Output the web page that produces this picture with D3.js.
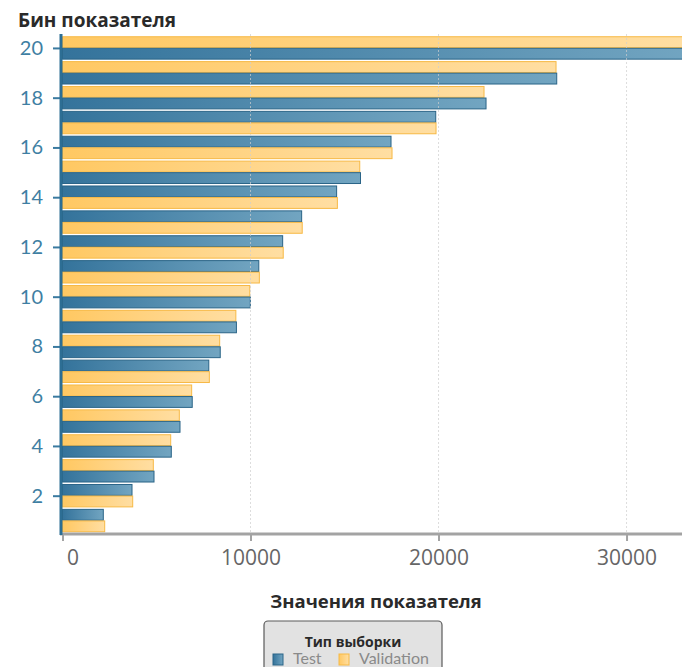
<!DOCTYPE html>
<html>
<head>
<meta charset="utf-8">
<script src="https://cdn.jsdelivr.net/npm/d3@7"></script>
<style>
  body { margin: 0; background: #fff; }
  svg { display: block; font-family: Lato, "Open Sans", sans-serif; }
</style>
</head>
<body>
<div id="chart"></div>
<script>
// bins of the indicator, bottom to top
const bins = d3.range(1, 21);
const seriesNames = ['Test', 'Validation'];
// values (bin 20 runs past the right edge)
const testValues = [2170, 3697, 4867, 5787, 6250, 6900, 7780, 8390, 9250, 9990,
  10440, 11710, 12720, 14580, 15850, 17473, 19851, 22527, 26287, 33400];
const validationValues = [2245, 3734, 4830, 5755, 6213, 6870, 7810, 8360, 9220, 9960,
  10470, 11740, 12750, 14620, 15810, 17527, 19867, 22420, 26250, 33300];
const xTicks = [0, 10000, 20000, 30000];
const yTicks = [2, 4, 6, 8, 10, 12, 14, 16, 18, 20];

const W = 682, H = 667;
const svg = d3.select('#chart').append('svg').attr('width', W).attr('height', H);

const x = d3.scaleLinear().domain([0, 32950]).range([62.5, 682]);
const y = d3.scaleLinear().domain([0.5, 20.5]).range([533, 35.5]);
// two bars inside a bin, smaller value on top
const inner = d3.scaleBand().domain([0, 1]).range([-11.2, 11.2]).paddingInner(0.06);

const color = {
  Test: { a: '#34739b', b: '#72a5c1', stroke: '#2a6487' },
  Validation: { a: '#ffc862', b: '#ffdea2', stroke: '#f7b945' }
};

const defs = svg.append('defs');
seriesNames.forEach(s => {
  const g = defs.append('linearGradient').attr('id', 'grad-' + s)
    .attr('x1', 0).attr('x2', 1).attr('y1', 0).attr('y2', 0);
  g.append('stop').attr('offset', '0%').attr('stop-color', color[s].a);
  g.append('stop').attr('offset', '100%').attr('stop-color', color[s].b);
});
defs.append('clipPath').attr('id', 'plot')
  .append('rect').attr('x', 62).attr('y', 34).attr('width', W - 62).attr('height', 500);

const rows = bins.map((b, i) => {
  const items = [
    { series: 'Test', value: testValues[i] },
    { series: 'Validation', value: validationValues[i] }
  ].sort((p, q) => p.value - q.value);
  items.forEach((d, k) => { d.bin = b; d.slot = k; });
  return items;
}).flat();

// bars
svg.append('g').attr('clip-path', 'url(#plot)')
  .selectAll('rect').data(rows).join('rect')
  .attr('x', x(0))
  .attr('y', d => y(d.bin) + inner(d.slot))
  .attr('width', d => x(d.value) - x(0))
  .attr('height', inner.bandwidth())
  .attr('fill', d => 'url(#grad-' + d.series + ')')
  .attr('stroke', d => color[d.series].stroke)
  .attr('stroke-width', 1);

// dotted gridlines, drawn faintly over the bars
svg.append('g').selectAll('line').data(xTicks.filter(t => t > 0)).join('line')
  .attr('x1', d => x(d)).attr('x2', d => x(d))
  .attr('y1', 34).attr('y2', 533)
  .attr('stroke', '#cfcfcf').attr('stroke-opacity', 0.7)
  .attr('stroke-dasharray', '2,2');

// x axis
const xAxis = svg.append('g').attr('transform', 'translate(0,534)')
  .call(d3.axisBottom(x).tickValues(xTicks).tickSize(7).tickPadding(9).tickFormat(d3.format('d')));
xAxis.select('.domain').remove();
xAxis.append('line').attr('x1', 60).attr('x2', W).attr('stroke', '#a3a3a3').attr('stroke-width', 3);
xAxis.selectAll('.tick line').attr('stroke', '#a3a3a3').attr('stroke-width', 2);
xAxis.selectAll('.tick text')
  .attr('fill', '#666').style('font-size', '21px').style('font-family', '"Open Sans"')
  .attr('dx', d => d === 0 ? 10 : 0);

// y axis
const yAxis = svg.append('g').attr('transform', 'translate(61,0)')
  .call(d3.axisLeft(y).tickValues(yTicks).tickSize(8).tickPadding(10));
yAxis.select('.domain').remove();
yAxis.append('line').attr('y1', 34).attr('y2', 535).attr('stroke', '#2d6e94').attr('stroke-width', 3);
yAxis.selectAll('.tick line').attr('stroke', '#3a7aa0').attr('stroke-width', 2);
yAxis.selectAll('.tick text')
  .attr('fill', '#3f7fa3').style('font-size', '20px').style('font-family', 'Lato');

// titles
svg.append('text').attr('x', 18).attr('y', 27)
  .attr('fill', '#2a2a2a').style('font-size', '19px').style('font-weight', 700)
  .style('font-family', '"Open Sans"')
  .text('Бин показателя');
svg.append('text').attr('x', 376).attr('y', 608).attr('text-anchor', 'middle')
  .attr('fill', '#2a2a2a').style('font-size', '18.5px').style('font-weight', 700)
  .style('font-family', '"Open Sans"')
  .text('Значения показателя');

// legend
const lg = svg.append('g');
lg.append('rect').attr('x', 264).attr('y', 621).attr('width', 178).attr('height', 70).attr('rx', 4)
  .attr('fill', '#e2e2e2').attr('stroke', '#5a5a5a').attr('stroke-width', 1.2);
lg.append('text').attr('x', 353).attr('y', 647).attr('text-anchor', 'middle')
  .attr('fill', '#2a2a2a').style('font-size', '14px').style('font-weight', 700)
  .style('font-family', '"Open Sans"')
  .text('Тип выборки');
const legendX = [273, 339];
seriesNames.forEach((s, i) => {
  lg.append('rect').attr('x', legendX[i]).attr('y', 654).attr('width', 10).attr('height', 11)
    .attr('fill', 'url(#grad-' + s + ')').attr('stroke', color[s].stroke);
  lg.append('text').attr('x', legendX[i] + 20).attr('y', 664)
    .attr('fill', '#8a8a8a').style('font-size', '16px').text(s);
});
</script>
</body>
</html>
